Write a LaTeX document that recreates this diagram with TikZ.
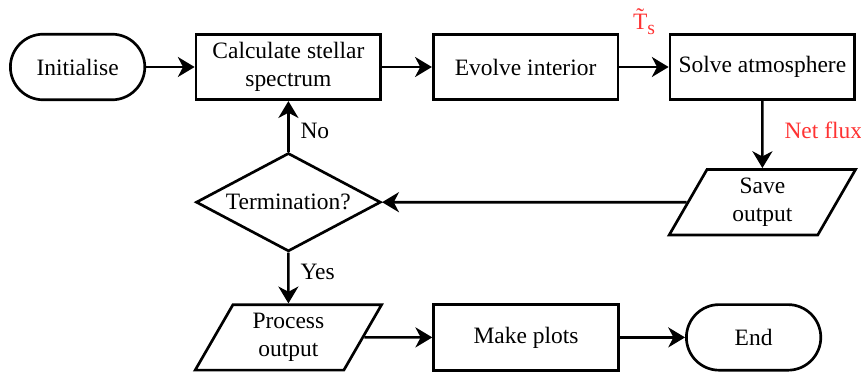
\documentclass[tikz,border=0pt]{standalone}
\usepackage{fontspec}
\setmainfont{Liberation Serif}
\usetikzlibrary{shapes.geometric,arrows.meta}
\definecolor{fluxred}{RGB}{255,51,51}
\begin{document}
\begin{tikzpicture}
\tikzstyle{every node}=[font=\fontsize{16.7pt}{19.5pt}\selectfont]
\tikzstyle{terminal}=[draw, rectangle, rounded corners=0.82cm, line width=1.9pt, minimum width=3.36cm, minimum height=1.64cm]
\tikzstyle{process}=[draw, rectangle, line width=1.9pt, minimum width=4.62cm, minimum height=1.64cm, align=center]
\tikzstyle{data}=[draw, trapezium, trapezium left angle=60, trapezium right angle=120, trapezium stretches body, inner ysep=0.22cm, line width=1.9pt, minimum width=4.66cm, minimum height=1.6cm, align=center]
\tikzstyle{decision}=[draw, diamond, aspect=1.9, inner sep=0pt, line width=1.9pt, minimum width=4.62cm, minimum height=2.46cm]
\tikzstyle{flow}=[line width=1.9pt, -{Stealth[length=0.42cm, width=0.5cm, inset=0.13cm]}]
\tikzstyle{note}=[inner sep=0pt]

\useasboundingbox (0,0) rectangle (21.525,9.375);

\draw (1.94,7.70) node[terminal] (init) {Initialise};
\draw (7.21,7.70) node[process] (calc) {Calculate stellar\\spectrum};
\draw (13.14,7.70) node[process] (evolve) {Evolve interior};
\draw (19.06,7.70) node[process] (solve) {Solve atmosphere};
\draw (19.06,4.32) node[data] (save) {Save\\output};
\draw (7.21,4.32) node[decision] (term) {Termination?};
\draw (7.21,0.94) node[data] (proc) {Process\\output};
\draw (13.15,0.94) node[process] (plots) {Make plots};
\draw (18.84,0.94) node[terminal] (end) {End};

\draw (init) edge[flow] (calc);
\draw (calc) edge[flow] (evolve);
\draw (evolve) edge[flow] node[note, above=0.78cm, text=fluxred] {\~T\raisebox{-0.12cm}{\fontsize{14pt}{14pt}\selectfont s}} (solve);
\draw (solve) edge[flow] node[note, pos=0.43, right=0.52cm, text=fluxred] {Net flux} (save);
\draw (save) edge[flow] (term);
\draw (term) edge[flow] node[note, pos=0.42, right=0.27cm] {No} (calc);
\draw (term) edge[flow] node[note, pos=0.38, right=0.27cm] {Yes} (proc);
\draw (proc) edge[flow] (plots);
\draw (plots) edge[flow] (end);
\end{tikzpicture}
\end{document}
